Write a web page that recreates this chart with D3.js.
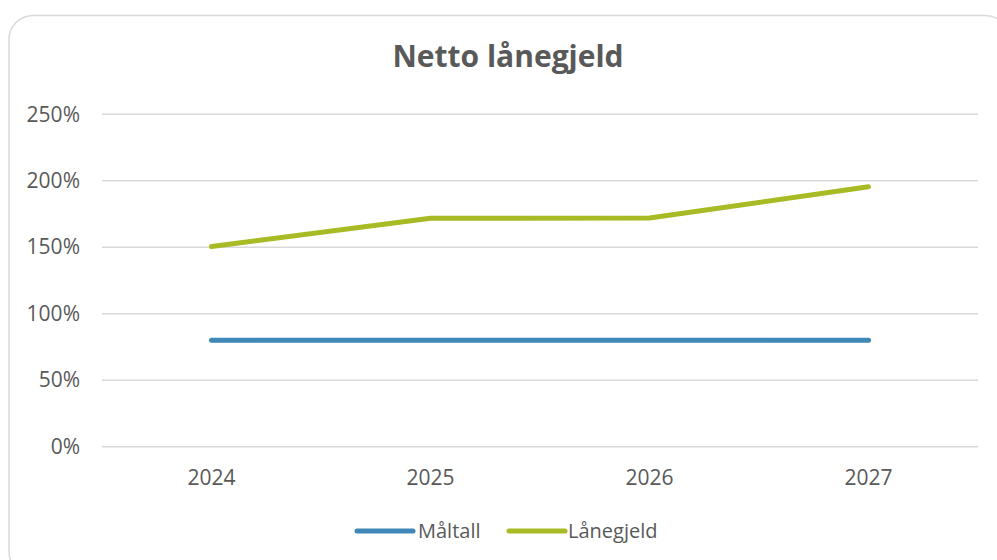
<!DOCTYPE html>
<html><head><meta charset="utf-8">
<script src="https://cdn.jsdelivr.net/npm/d3@7"></script>
<style>body{margin:0;background:#fff;}svg{display:block;}</style>
</head><body>
<script>
const categories = ["2024", "2025", "2026", "2027"];
const maltall = [80, 80, 80, 80];
const lanegjeld = [150.5, 171.8, 172, 195.5];
const yTicks = [0, 50, 100, 150, 200, 250];
const seriesNames = ["Måltall", "Lånegjeld"];
const colors = ["#3f87b6", "#a8bb25"];

const W = 997, H = 560;
const font = "'Open Sans', sans-serif";
const svg = d3.select("body").append("svg").attr("width", W).attr("height", H);

svg.append("rect").attr("x", 9).attr("y", 15.5).attr("width", 1000).attr("height", 560)
  .attr("rx", 24).attr("ry", 24).attr("fill", "#fff").attr("stroke", "#d9d9d9").attr("stroke-width", 1.5);

svg.append("text").attr("x", 508).attr("y", 67).attr("text-anchor", "middle")
  .attr("font-family", font).attr("font-weight", "bold").attr("font-size", 30)
  .attr("fill", "#595959").text("Netto lånegjeld");

const x = d3.scaleBand().domain(categories).range([102, 978]);
const y = d3.scaleLinear().domain([0, 250]).range([446.7, 114.3]);

const grid = svg.append("g");
grid.selectAll("line").data(yTicks).join("line")
  .attr("x1", 102).attr("x2", 978)
  .attr("y1", d => y(d)).attr("y2", d => y(d))
  .attr("stroke", "#d9d9d9").attr("stroke-width", 1.5);

const yAxis = svg.append("g").attr("transform", "translate(80,0)")
  .call(d3.axisLeft(y).tickValues(yTicks).tickFormat(d => d + "%").tickSize(0).tickPadding(0));
yAxis.select(".domain").remove();
yAxis.selectAll("text").attr("font-family", font).attr("font-size", 21).attr("fill", "#595959");

const xAxis = svg.append("g").attr("transform", "translate(0,446.7)")
  .call(d3.axisBottom(x).tickSize(0).tickPadding(23));
xAxis.select(".domain").remove();
xAxis.selectAll("text").attr("font-family", font).attr("font-size", 21).attr("fill", "#595959");

const line = d3.line().x((d, i) => x(categories[i]) + x.bandwidth() / 2).y(d => y(d));
[maltall, lanegjeld].forEach((s, k) => {
  svg.append("path").attr("d", line(s)).attr("fill", "none")
    .attr("stroke", colors[k]).attr("stroke-width", 5)
    .attr("stroke-linecap", "round").attr("stroke-linejoin", "round");
});

const legend = [{x0: 357, x1: 413, tx: 418}, {x0: 509, x1: 565, tx: 568}];
legend.forEach((p, k) => {
  svg.append("line").attr("x1", p.x0).attr("x2", p.x1).attr("y1", 531).attr("y2", 531)
    .attr("stroke", colors[k]).attr("stroke-width", 5).attr("stroke-linecap", "round");
  svg.append("text").attr("x", p.tx).attr("y", 538).attr("font-family", font)
    .attr("font-size", 20).attr("fill", "#595959").text(seriesNames[k]);
});
</script>
</body></html>
